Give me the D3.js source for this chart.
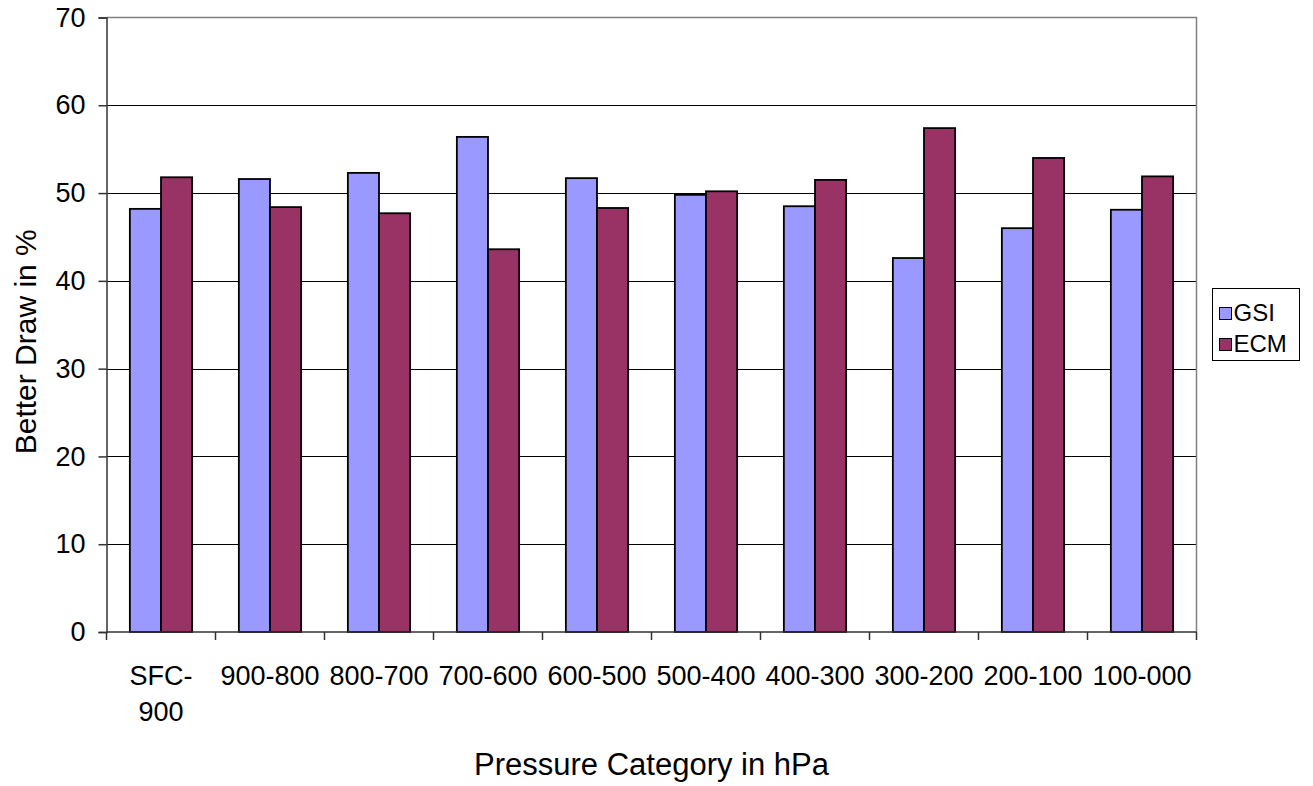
<!DOCTYPE html>
<html>
<head>
<meta charset="utf-8">
<script src="https://cdn.jsdelivr.net/npm/d3@7"></script>
<style>
	body { margin: 0; background: #fff; }
	text { font-family: "Liberation Sans", Arial, sans-serif; fill: #000; }
</style>
</head>
<body>
<svg id="chart" width="1313" height="786"></svg>
<script>
// values
const categories = ["SFC-900", "900-800", "800-700", "700-600", "600-500", "500-400", "400-300", "300-200", "200-100", "100-000"];
const seriesNames = ["GSI", "ECM"];
const gsiValues = [48.2, 51.6, 52.3, 56.4, 51.7, 49.8, 48.5, 42.6, 46.0, 48.1];
const ecmValues = [51.8, 48.4, 47.7, 43.6, 48.3, 50.2, 51.5, 57.4, 54.0, 51.9];
const yTicks = [0, 10, 20, 30, 40, 50, 60, 70];
const colors = ["#9999ff", "#993366"];

let plot = { left: 106.5, top: 17.5, right: 1196.5, bottom: 632 };

let svg = d3.select("#chart");

let x0 = d3.scaleBand()
	.domain(categories)
	.range([plot.left, plot.right])
	.padding(0);

// excel style gap: 150% of a bar width split on both sides
let barW = x0.bandwidth() / 3.5;
let x1 = d3.scaleBand()
	.domain(seriesNames)
	.range([barW * 0.75, barW * 0.75 + barW * 2])
	.padding(0);

let y = d3.scaleLinear()
	.domain([0, 70])
	.range([plot.bottom, plot.top]);

// gridlines
svg.append("g")
	.selectAll("line")
	.data(yTicks.filter((t) => t > 0 && t < 70))
	.enter().append("line")
	.attr("x1", plot.left).attr("x2", plot.right)
	.attr("y1", (t) => Math.round(y(t)) + 0.5).attr("y2", (t) => Math.round(y(t)) + 0.5)
	.attr("stroke", "#000").attr("stroke-width", 1);

// plot frame (top / right in grey)
svg.append("path")
	.attr("d", "M" + plot.left + "," + plot.top + "H" + plot.right + "V" + plot.bottom)
	.attr("fill", "none").attr("stroke", "#808080").attr("stroke-width", 1.5);

let data = categories.map((c, i) => ({ cat: c, vals: [gsiValues[i], ecmValues[i]] }));

let groups = svg.selectAll(".grp")
	.data(data)
	.enter().append("g")
	.attr("class", "grp")
	.attr("transform", (d) => "translate(" + x0(d.cat) + ",0)");

groups.selectAll("rect")
	.data((d) => d.vals.map((v, j) => ({ name: seriesNames[j], v: v, j: j })))
	.enter().append("rect")
	.attr("x", (d) => x1(d.name))
	.attr("width", x1.bandwidth())
	.attr("y", (d) => y(d.v))
	.attr("height", (d) => y(0) - y(d.v))
	.attr("fill", (d) => colors[d.j])
	.attr("stroke", "#000")
	.attr("stroke-width", 1.8);

// y axis
let yAxis = svg.append("g")
	.attr("transform", "translate(" + plot.left + ",0)")
	.call(d3.axisLeft(y).tickValues(yTicks).tickSize(8).tickPadding(13).tickFormat(d3.format("d")));
yAxis.select(".domain").attr("stroke", "#333").attr("stroke-width", 1.5);
yAxis.selectAll(".tick line").attr("stroke", "#333").attr("stroke-width", 1.5);
yAxis.selectAll("text").style("font-size", "27px").attr("fill", "#000").style("font-family", "Liberation Sans, Arial, sans-serif");

// x axis, ticks on category boundaries
let xAxis = svg.append("g")
	.attr("transform", "translate(0," + plot.bottom + ")");
xAxis.append("line")
	.attr("x1", plot.left).attr("x2", plot.right)
	.attr("stroke", "#333").attr("stroke-width", 1.5);
xAxis.selectAll(".tk")
	.data(categories.concat(["end"]))
	.enter().append("line")
	.attr("class", "tk")
	.attr("x1", (d, i) => plot.left + i * x0.bandwidth())
	.attr("x2", (d, i) => plot.left + i * x0.bandwidth())
	.attr("y1", 0).attr("y2", 8)
	.attr("stroke", "#333").attr("stroke-width", 1.5);

let labels = xAxis.selectAll(".lbl")
	.data(categories)
	.enter().append("text")
	.attr("class", "lbl")
	.attr("text-anchor", "middle")
	.attr("x", (d) => x0(d) + x0.bandwidth() / 2)
	.attr("y", 53)
	.style("font-size", "27px");

// wrap after a hyphen when label is wider than the category
labels.each(function(d) {
	let t = d3.select(this);
	t.text(d);
	if (this.getComputedTextLength() > x0.bandwidth() - 4) {
		let k = d.indexOf("-") + 1;
		t.text(null);
		t.append("tspan").attr("x", t.attr("x")).text(d.slice(0, k));
		t.append("tspan").attr("x", t.attr("x")).attr("dy", 36).text(d.slice(k));
	}
});

// axis titles
svg.append("text")
	.attr("x", (plot.left + plot.right) / 2)
	.attr("y", 775)
	.attr("text-anchor", "middle")
	.style("font-size", "31px")
	.text("Pressure Category in hPa");

svg.append("text")
	.attr("transform", "translate(36," + ((plot.top + plot.bottom) / 2 + 17) + ") rotate(-90)")
	.attr("text-anchor", "middle")
	.style("font-size", "30px")
	.text("Better Draw in %");

// legend
let legend = svg.append("g").attr("transform", "translate(1212.5,288.5)");
legend.append("rect")
	.attr("width", 87).attr("height", 72)
	.attr("fill", "#fff").attr("stroke", "#000").attr("stroke-width", 1);

let items = legend.selectAll(".item")
	.data(seriesNames)
	.enter().append("g")
	.attr("class", "item")
	.attr("transform", (d, i) => "translate(7," + (19 + i * 31) + ")");
items.append("rect")
	.attr("width", 12).attr("height", 12)
	.attr("fill", (d, i) => colors[i])
	.attr("stroke", "#000").attr("stroke-width", 1);
items.append("text")
	.attr("x", 14).attr("y", 13)
	.style("font-size", "24px")
	.text((d) => d);
</script>
</body>
</html>
